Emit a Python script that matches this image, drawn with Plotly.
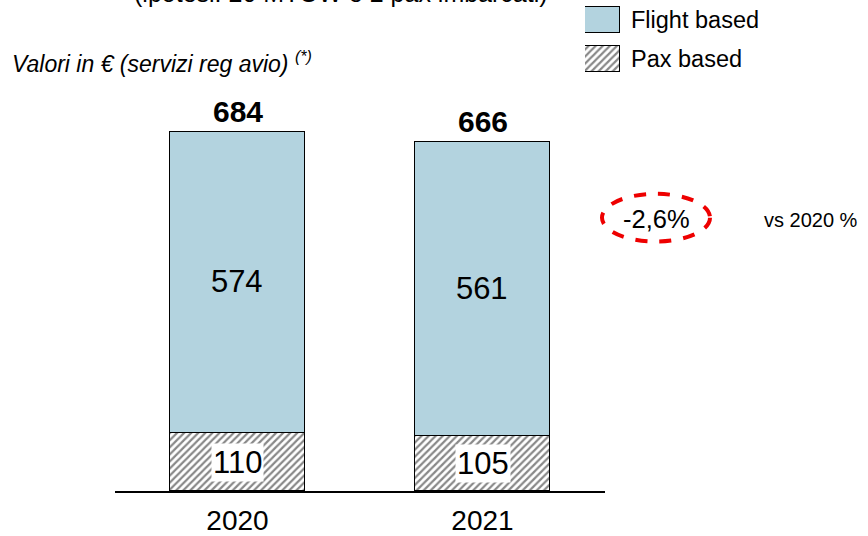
import plotly.graph_objects as go

# ---- data ----
years = ["2020", "2021"]
pax_based = [110, 105]
flight_based = [574, 561]
totals = [684, 666]
change_label = "-2,6%"
change_note = "vs 2020 %"
legend_labels = ["Flight based", "Pax based"]
subtitle = "Valori in € (servizi reg avio) <sup>(*)</sup>"
title_text = "(ipotesi: 20 MTOW e 2 pax imbarcati)"

W, H = 868, 536
FONT = "Arial, Liberation Sans, sans-serif"
FLIGHT_COLOR = "#b3d3df"
PAT = dict(shape="/", fgcolor="#111111", bgcolor="white", size=5, solidity=0.45)

PLOT_BOTTOM = 494  # axis line at page y=494


def py(p):  # page pixel y -> paper y
    return (PLOT_BOTTOM - p) / PLOT_BOTTOM


def px(p):  # page pixel x -> paper x
    return p / W


YMAX = PLOT_BOTTOM / (361.0 / 684.0)

fig = go.Figure()

fig.add_trace(go.Bar(
    x=years, y=pax_based, width=0.555,
    marker=dict(color="white", pattern=PAT, line=dict(color="black", width=1.5)),
    showlegend=False, hoverinfo="skip",
))
fig.add_trace(go.Bar(
    x=years, y=flight_based, width=0.555,
    marker=dict(color=FLIGHT_COLOR, line=dict(color="black", width=1.5)),
    text=[str(v) for v in flight_based], textposition="inside",
    insidetextanchor="middle", textangle=0,
    textfont=dict(family=FONT, size=31, color="black"),
    showlegend=False, hoverinfo="skip",
))

# legend swatches (bars on a small secondary axis)
fig.add_trace(go.Bar(
    y=[legend_labels[0]], x=[1], orientation="h", width=0.658,
    xaxis="x2", yaxis="y2",
    marker=dict(color=FLIGHT_COLOR, line=dict(color="black", width=1.5)),
    showlegend=False, hoverinfo="skip",
))
fig.add_trace(go.Bar(
    y=[legend_labels[1]], x=[1], orientation="h", width=0.658,
    xaxis="x2", yaxis="y2",
    marker=dict(color="white", pattern=PAT, line=dict(color="black", width=1.5)),
    showlegend=False, hoverinfo="skip",
))

annotations = []
for i, (p, t) in enumerate(zip(pax_based, totals)):
    annotations.append(dict(
        x=i, y=p / 2, xref="x", yref="y", text=str(p), showarrow=False,
        font=dict(family=FONT, size=31, color="black"),
        bgcolor="white", borderpad=1,
    ))
    annotations.append(dict(
        x=i, y=t, xref="x", yref="y", text="<b>%d</b>" % t, showarrow=False,
        yanchor="bottom", yshift=2,
        font=dict(family=FONT, size=30, color="black"),
    ))

annotations.append(dict(
    x=px(10), y=py(62), xref="paper", yref="paper", text="<i>" + subtitle + "</i>",
    showarrow=False, xanchor="left", yanchor="middle",
    font=dict(family=FONT, size=23, color="black"),
))
annotations.append(dict(
    x=px(132), y=py(9), xref="paper", yref="paper", text=title_text,
    showarrow=False, xanchor="left", yanchor="bottom",
    font=dict(family=FONT, size=25, color="black"),
))
annotations.append(dict(
    x=px(656), y=py(220), xref="paper", yref="paper", text=change_label,
    showarrow=False, xanchor="center", yanchor="middle",
    font=dict(family=FONT, size=25.5, color="black"),
))
annotations.append(dict(
    x=px(762), y=py(221), xref="paper", yref="paper", text=change_note,
    showarrow=False, xanchor="left", yanchor="middle",
    font=dict(family=FONT, size=20, color="black"),
))

shapes = [dict(
    type="circle", xref="paper", yref="paper",
    x0=px(602), x1=px(710), y0=py(243), y1=py(195),
    line=dict(color="#ee0000", width=4, dash="dash"),
)]

fig.update_layout(
    width=W, height=H,
    margin=dict(l=0, r=0, t=0, b=H - PLOT_BOTTOM),
    paper_bgcolor="white", plot_bgcolor="white",
    barmode="stack", bargap=0,
    showlegend=False,
    xaxis=dict(
        domain=[px(115), px(605)], range=[-0.5, 1.5], type="category",
        showline=True, linecolor="black", linewidth=1.5,
        ticks="", showgrid=False, zeroline=False,
        tickfont=dict(family=FONT, size=28, color="black"),
        ticklabelstandoff=4,
    ),
    yaxis=dict(range=[0, YMAX], visible=False, showgrid=False, zeroline=False),
    xaxis2=dict(domain=[px(585), px(620)], range=[0, 1], anchor="y2",
                visible=False, showgrid=False, zeroline=False),
    yaxis2=dict(domain=[py(80), 1], range=[-0.519, 1.506], anchor="x2", type="category",
                categoryorder="array", categoryarray=[legend_labels[1], legend_labels[0]],
                side="right", showline=False, ticks="", showgrid=False, zeroline=False,
                ticklabelstandoff=10,
                tickfont=dict(family=FONT, size=23.5, color="black")),
    annotations=annotations,
    shapes=shapes,
)

fig.write_html(
    "out.html",
    config={"displayModeBar": False},
    post_script="document.body.style.margin='0';document.body.style.overflow='hidden';",
)
